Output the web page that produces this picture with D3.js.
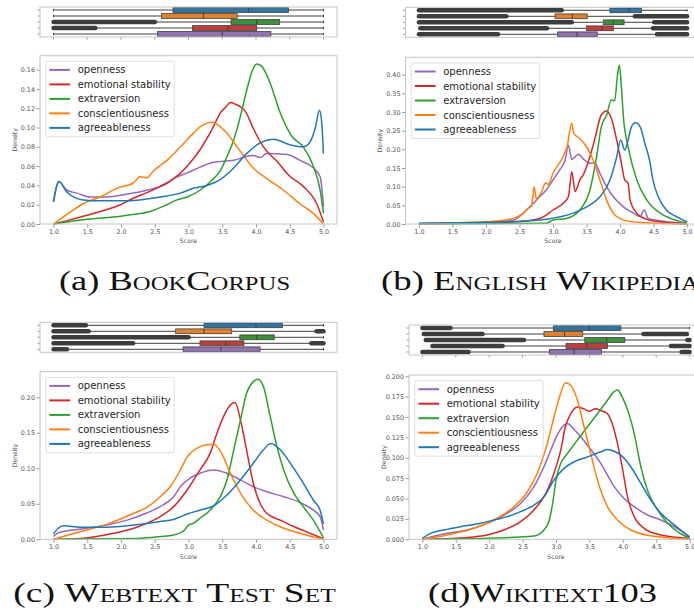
<!DOCTYPE html>
<html>
<head>
<meta charset="utf-8">
<script src="https://cdn.jsdelivr.net/npm/d3@7"></script>
<style>
html,body{margin:0;padding:0;background:#fff;overflow:hidden;}
svg{display:block;}
</style>
</head>
<body>
<svg id="chart" width="694" height="614"></svg>
<script>
// ---------------- DATA ----------------
const traits = ["openness", "emotional stability", "extraversion", "conscientiousness", "agreeableness"];
const boxOrder = ["agreeableness", "conscientiousness", "extraversion", "emotional stability", "openness"];
const xTicks = [1.0, 1.5, 2.0, 2.5, 3.0, 3.5, 4.0, 4.5, 5.0];
const captions = ["(a) BookCorpus", "(b) English Wikipedia", "(c) Webtext Test Set", "(d)Wikitext103"];

// (a) BookCorpus densities: [score, density]
const book_openness = [[1.0,0.023],[1.05,0.040],[1.08,0.044],[1.2,0.035],[1.35,0.032],[1.54,0.028],[1.79,0.028],[2.09,0.031],[2.38,0.035],[2.68,0.042],[2.78,0.047],[2.98,0.053],[3.17,0.059],[3.37,0.064],[3.67,0.066],[3.86,0.070],[3.96,0.071],[4.06,0.069],[4.16,0.073],[4.46,0.072],[4.65,0.066],[4.85,0.058],[4.95,0.049],[5.0,0.018]];
const book_emotional = [[1.0,0.0],[1.2,0.0035],[1.5,0.009],[1.69,0.013],[1.99,0.020],[2.19,0.027],[2.4,0.033],[2.58,0.039],[2.78,0.047],[2.98,0.060],[3.17,0.077],[3.37,0.101],[3.47,0.115],[3.55,0.121],[3.62,0.126],[3.7,0.124],[3.78,0.121],[3.84,0.117],[3.96,0.099],[4.11,0.080],[4.31,0.065],[4.51,0.049],[4.7,0.039],[4.9,0.021],[5.0,0.002]];
const book_extraversion = [[1.0,0.0],[1.5,0.005],[2.0,0.008],[2.19,0.010],[2.43,0.013],[2.68,0.020],[2.83,0.025],[2.98,0.028],[3.17,0.035],[3.37,0.047],[3.47,0.055],[3.57,0.070],[3.67,0.087],[3.77,0.112],[3.86,0.138],[3.95,0.160],[4.01,0.166],[4.08,0.164],[4.21,0.146],[4.36,0.115],[4.53,0.091],[4.7,0.080],[4.85,0.060],[4.95,0.035],[5.0,0.011]];
const book_conscientiousness = [[1.0,0.0],[1.2,0.010],[1.44,0.021],[1.69,0.028],[1.94,0.037],[2.19,0.043],[2.28,0.049],[2.38,0.048],[2.48,0.055],[2.68,0.066],[2.88,0.080],[3.07,0.094],[3.22,0.103],[3.35,0.1055],[3.45,0.102],[3.57,0.094],[3.72,0.080],[3.96,0.058],[4.16,0.047],[4.41,0.035],[4.65,0.021],[4.85,0.011],[5.0,0.0]];
const book_agreeableness = [[1.0,0.023],[1.05,0.040],[1.08,0.044],[1.2,0.033],[1.44,0.025],[1.69,0.024],[2.0,0.024],[2.28,0.025],[2.58,0.028],[2.88,0.032],[3.07,0.037],[3.27,0.040],[3.47,0.046],[3.67,0.058],[3.86,0.073],[4.06,0.084],[4.26,0.088],[4.51,0.082],[4.7,0.080],[4.8,0.085],[4.88,0.100],[4.94,0.118],[4.97,0.108],[5.0,0.073]];

// (b) English Wikipedia
const wiki_openness = [[1.0,0.001],[2.0,0.004],[2.41,0.010],[2.6,0.037],[2.70,0.054],[2.8,0.073],[2.9,0.091],[3.0,0.118],[3.1,0.145],[3.18,0.171],[3.23,0.21],[3.28,0.173],[3.38,0.187],[3.47,0.171],[3.55,0.163],[3.62,0.164],[3.7,0.136],[3.8,0.10],[3.9,0.073],[4.05,0.046],[4.2,0.029],[4.3,0.020],[4.36,0.0375],[4.42,0.015],[4.59,0.009],[5.0,0.002]];
const wiki_emotional = [[1.0,0.001],[2.41,0.006],[2.8,0.015],[2.9,0.024],[3.0,0.0375],[3.15,0.055],[3.23,0.073],[3.28,0.14],[3.33,0.087],[3.4,0.118],[3.45,0.131],[3.55,0.18],[3.62,0.225],[3.72,0.292],[3.8,0.303],[3.87,0.283],[3.95,0.225],[4.02,0.1625],[4.07,0.118],[4.12,0.109],[4.15,0.064],[4.25,0.029],[4.4,0.0125],[4.64,0.005],[5.0,0.001]];
const wiki_extraversion = [[1.0,0.0],[2.9,0.002],[3.0,0.011],[3.2,0.015],[3.4,0.0375],[3.55,0.091],[3.65,0.18],[3.72,0.26],[3.8,0.292],[3.87,0.332],[3.92,0.330],[3.96,0.396],[3.99,0.426],[4.02,0.368],[4.05,0.2875],[4.12,0.207],[4.25,0.118],[4.4,0.064],[4.6,0.029],[4.79,0.0125],[5.0,0.003]];
const wiki_conscientiousness = [[1.0,0.001],[2.0,0.006],[2.25,0.010],[2.41,0.015],[2.56,0.029],[2.63,0.042],[2.68,0.048],[2.72,0.10],[2.75,0.067],[2.83,0.087],[2.89,0.11],[2.93,0.106],[3.0,0.136],[3.15,0.18],[3.21,0.207],[3.28,0.27],[3.31,0.243],[3.40,0.229],[3.5,0.207],[3.6,0.171],[3.7,0.118],[3.8,0.064],[3.9,0.029],[4.05,0.011],[4.3,0.004],[5.0,0.0]];
const wiki_agreeableness = [[1.0,0.002],[1.9,0.004],[2.4,0.006],[2.9,0.0125],[3.3,0.029],[3.55,0.051],[3.7,0.073],[3.85,0.118],[3.95,0.18],[4.01,0.225],[4.07,0.198],[4.12,0.225],[4.17,0.26],[4.23,0.271],[4.3,0.26],[4.37,0.216],[4.44,0.171],[4.49,0.118],[4.57,0.073],[4.69,0.0375],[4.84,0.02],[5.0,0.006]];

// (c) Webtext Test Set
const web_openness = [[1.0,0.004],[1.07,0.009],[1.2,0.012],[1.49,0.0155],[1.79,0.020],[2.09,0.027],[2.38,0.037],[2.58,0.046],[2.78,0.060],[2.9,0.0765],[3.02,0.086],[3.17,0.093],[3.37,0.0977],[3.57,0.093],[3.77,0.0836],[3.96,0.074],[4.16,0.067],[4.41,0.060],[4.65,0.052],[4.85,0.041],[4.95,0.032],[5.0,0.013]];
const web_emotional = [[1.0,0.0],[1.49,0.002],[1.89,0.0085],[2.19,0.0155],[2.38,0.0225],[2.58,0.032],[2.78,0.046],[2.98,0.0695],[3.17,0.0977],[3.32,0.121],[3.42,0.149],[3.52,0.173],[3.61,0.188],[3.69,0.1925],[3.77,0.168],[3.86,0.126],[3.96,0.079],[4.06,0.0507],[4.16,0.0366],[4.36,0.027],[4.56,0.018],[4.8,0.0085],[5.0,0.001]];
const web_extraversion = [[1.0,0.0],[2.19,0.001],[2.48,0.003],[2.78,0.006],[2.93,0.012],[3.0,0.020],[3.07,0.0225],[3.17,0.0296],[3.32,0.041],[3.47,0.060],[3.57,0.0836],[3.67,0.126],[3.77,0.168],[3.86,0.2056],[3.96,0.222],[4.03,0.2254],[4.11,0.215],[4.21,0.173],[4.31,0.1305],[4.41,0.0977],[4.56,0.065],[4.7,0.046],[4.85,0.027],[5.0,0.002]];
const web_conscientiousness = [[1.0,0.0],[1.4,0.011],[1.79,0.021],[2.19,0.0366],[2.38,0.045],[2.58,0.060],[2.73,0.074],[2.88,0.0977],[2.98,0.116],[3.12,0.128],[3.27,0.1333],[3.37,0.134],[3.49,0.121],[3.62,0.093],[3.77,0.065],[3.96,0.041],[4.16,0.027],[4.41,0.0155],[4.65,0.0085],[5.0,0.0]];
const web_agreeableness = [[1.0,0.0075],[1.07,0.0155],[1.15,0.019],[1.4,0.017],[1.79,0.017],[2.19,0.020],[2.58,0.025],[2.78,0.028],[2.98,0.0357],[3.17,0.041],[3.37,0.047],[3.57,0.0624],[3.77,0.0836],[3.96,0.107],[4.11,0.126],[4.22,0.135],[4.36,0.126],[4.51,0.107],[4.7,0.079],[4.85,0.055],[4.95,0.041],[5.0,0.0216]];

// (d) Wikitext103
const wt_openness = [[1.0,0.0],[1.37,0.0073],[1.67,0.0114],[1.97,0.0196],[2.27,0.0318],[2.47,0.044],[2.67,0.0645],[2.82,0.089],[2.92,0.109],[3.02,0.128],[3.12,0.140],[3.17,0.142],[3.27,0.1347],[3.37,0.1257],[3.47,0.1155],[3.57,0.105],[3.67,0.093],[3.77,0.0788],[3.87,0.0645],[4.02,0.050],[4.17,0.040],[4.37,0.0298],[4.57,0.0237],[4.77,0.0155],[5.0,0.0033]];
const wt_emotional = [[1.0,0.0],[1.62,0.002],[1.97,0.0053],[2.22,0.0114],[2.47,0.0216],[2.67,0.036],[2.87,0.060],[2.97,0.081],[3.07,0.109],[3.14,0.138],[3.22,0.154],[3.32,0.1624],[3.42,0.160],[3.49,0.157],[3.59,0.160],[3.67,0.158],[3.77,0.154],[3.84,0.142],[3.92,0.1176],[3.99,0.089],[4.07,0.052],[4.17,0.0278],[4.32,0.0135],[4.57,0.0053],[5.0,0.001]];
const wt_extraversion = [[1.0,0.0],[1.87,0.001],[2.37,0.0025],[2.67,0.004],[2.82,0.0114],[2.9,0.0237],[2.95,0.044],[3.0,0.0727],[3.07,0.093],[3.17,0.105],[3.32,0.1216],[3.47,0.138],[3.62,0.154],[3.77,0.1706],[3.87,0.181],[3.92,0.183],[3.99,0.1747],[4.09,0.154],[4.17,0.130],[4.27,0.089],[4.37,0.060],[4.52,0.036],[4.67,0.0196],[4.82,0.0094],[5.0,0.001]];
const wt_conscientiousness = [[1.0,0.0],[1.37,0.0053],[1.77,0.0135],[2.07,0.0237],[2.37,0.040],[2.57,0.058],[2.72,0.081],[2.87,0.1176],[2.97,0.150],[3.07,0.1788],[3.14,0.192],[3.22,0.189],[3.32,0.1706],[3.42,0.138],[3.52,0.105],[3.62,0.0727],[3.77,0.040],[3.92,0.0237],[4.12,0.0114],[4.37,0.0049],[5.0,0.0]];
const wt_agreeableness = [[1.0,0.001],[1.12,0.0073],[1.32,0.0114],[1.57,0.0155],[1.87,0.0196],[2.07,0.0237],[2.27,0.0278],[2.47,0.034],[2.67,0.042],[2.82,0.052],[2.97,0.0727],[3.12,0.087],[3.27,0.095],[3.47,0.101],[3.67,0.1073],[3.77,0.110],[3.87,0.108],[3.97,0.1033],[4.12,0.089],[4.27,0.0686],[4.42,0.048],[4.57,0.0318],[4.77,0.0176],[5.0,0.0025]];

// Box statistics per row (boxOrder): [whiskerLow, q1, median, q3, whiskerHigh]
const book_box = [[1.0,2.77,3.89,4.48,5.0],[1.0,2.60,3.22,3.72,5.0],[2.53,3.63,4.01,4.35,5.0],[1.64,3.06,3.59,4.01,5.0],[1.0,2.54,3.50,4.22,5.0]];
const wiki_box = [[3.15,3.85,4.135,4.32,5.0],[2.33,3.03,3.29,3.51,4.2],[3.30,3.75,3.90,4.06,4.49],[2.93,3.50,3.73,3.90,4.47],[2.2,3.07,3.36,3.66,4.53]];
const web_box = [[1.5,3.23,4.0,4.39,5.0],[1.54,2.81,3.23,3.64,4.87],[3.02,3.76,4.01,4.27,5.0],[2.2,3.17,3.55,3.82,4.80],[1.22,2.92,3.48,4.06,5.0]];
const wt_box = [[1.44,2.96,3.50,3.97,5.0],[1.92,2.82,3.13,3.40,4.29],[2.54,3.43,3.76,4.03,4.94],[2.22,3.15,3.46,3.77,4.70],[1.71,2.9,3.27,3.68,4.86]];
// Outlier ranges per row (dense fliers forming solid bands)
const book_fliers = [[],[],[[1.0,2.5]],[[1.0,1.62]],[]];
const wiki_fliers = [[[1.0,3.13]],[[1.0,2.3],[4.22,5.0]],[[1.0,3.28],[4.51,5.0]],[[1.02,2.91],[4.49,5.0]],[[1.0,2.18],[4.55,5.0]]];
const web_fliers = [[[1.0,1.48]],[[1.0,1.52],[4.9,5.0]],[[1.0,3.0]],[[1.0,2.18],[4.82,5.0]],[[1.0,1.2]]];
const wt_fliers = [[[1.0,1.42]],[[1.02,1.9],[4.31,4.96]],[[1.05,2.52],[4.97,5.0]],[[1.15,2.2],[4.72,5.0]],[[1.0,1.69],[4.88,5.0]]];

const yTicksA = [0,0.02,0.04,0.06,0.08,0.10,0.12,0.14,0.16];
const yTicksB = [0,0.05,0.10,0.15,0.20,0.25,0.30,0.35,0.40];
const yTicksC = [0,0.05,0.10,0.15,0.20];
const yTicksD = [0,0.025,0.05,0.075,0.10,0.125,0.15,0.175,0.20];

// ---------------- STYLE / LAYOUT ----------------
const lineColors = {"openness":"#9467bd","emotional stability":"#d62728","extraversion":"#2ca02c","conscientiousness":"#ff7f0e","agreeableness":"#1f77b4"};
const boxColors = {"openness":"#9372b2","emotional stability":"#c03d3e","extraversion":"#3a923a","conscientiousness":"#e1812c","agreeableness":"#3274a1"};
const frameColor = "#c4c4c4";
const darkGray = "#3f3f3f";
const tickColor = "#555";

const panels = [
  {series:[book_openness,book_emotional,book_extraversion,book_conscientiousness,book_agreeableness], box:book_box, fliers:book_fliers,
   left:40, width:297, boxTop:7, densTop:55.7, densBottom:224, ymax:0.1745, yTicks:yTicksA, fmt:".2f", bottomTicks:true,
   caption:captions[0], capX:59, capBase:290, capW:231},
  {series:[wiki_openness,wiki_emotional,wiki_extraversion,wiki_conscientiousness,wiki_agreeableness], box:wiki_box, fliers:wiki_fliers,
   left:405.5, width:295, boxTop:7.3, densTop:57.3, densBottom:224, ymax:0.4466, yTicks:yTicksB, fmt:".2f", bottomTicks:false,
   caption:captions[1], capX:381, capBase:290, capW:null},
  {series:[web_openness,web_emotional,web_extraversion,web_conscientiousness,web_agreeableness], box:web_box, fliers:web_fliers,
   left:40, width:297, boxTop:322.3, densTop:371.7, densBottom:539.3, ymax:0.236, yTicks:yTicksC, fmt:".2f", bottomTicks:false,
   caption:captions[2], capX:13.3, capBase:602.3, capW:321},
  {series:[wt_openness,wt_emotional,wt_extraversion,wt_conscientiousness,wt_agreeableness], box:wt_box, fliers:wt_fliers,
   left:409, width:294, boxTop:325, densTop:375, densBottom:539.3, ymax:0.2015, yTicks:yTicksD, fmt:".3f", bottomTicks:true,
   caption:captions[3], capX:428, capBase:602.3, capW:229}
];

const svg = d3.select("#chart");
const sansFont = "'DejaVu Sans', Verdana, sans-serif";
const serifFont = "'Liberation Serif', 'Times New Roman', serif";

const scales = [];

panels.forEach((p, pi) => {
  const x = d3.scaleLinear().domain([0.8, 5.2]).range([p.left, p.left + p.width]);
  const y = d3.scaleLinear().domain([0, p.ymax]).range([p.densBottom, p.densTop]);

  // ---- Boxplot strip ----
  const boxH = 30;
  const yb = d3.scaleBand().domain(boxOrder).range([p.boxTop, p.boxTop + boxH]).paddingInner(0).paddingOuter(0);
  const gBox = svg.append("g");
  const bw = yb.bandwidth() * 0.8;

  const clipId = "clipbox" + pi;
  svg.append("clipPath").attr("id", clipId).append("rect")
    .attr("x", p.left).attr("y", p.boxTop).attr("width", p.width).attr("height", boxH);
  const gInner = gBox.append("g").attr("clip-path", `url(#${clipId})`);

  boxOrder.forEach((name, ri) => {
    const cy = yb(name) + yb.bandwidth() / 2;
    const [wl, q1, med, q3, wh] = p.box[ri];
    // fliers
    p.fliers[ri].forEach(([a, b]) => {
      gInner.append("line")
        .attr("x1", x(a)).attr("x2", x(b)).attr("y1", cy).attr("y2", cy)
        .attr("stroke", "#3d3d3d").attr("stroke-width", 4.4).attr("stroke-linecap", "round");
    });
    // whiskers
    gInner.append("line").attr("x1", x(wl)).attr("x2", x(q1)).attr("y1", cy).attr("y2", cy)
      .attr("stroke", darkGray).attr("stroke-width", 1);
    gInner.append("line").attr("x1", x(q3)).attr("x2", x(wh)).attr("y1", cy).attr("y2", cy)
      .attr("stroke", darkGray).attr("stroke-width", 1);
    // caps
    [wl, wh].forEach(v => {
      gInner.append("line").attr("x1", x(v)).attr("x2", x(v)).attr("y1", cy - bw / 4).attr("y2", cy + bw / 4)
        .attr("stroke", darkGray).attr("stroke-width", 1);
    });
    // box
    gInner.append("rect").attr("x", x(q1)).attr("y", cy - bw / 2).attr("width", x(q3) - x(q1)).attr("height", bw)
      .attr("fill", boxColors[name]).attr("stroke", darkGray).attr("stroke-width", 0.8);
    gInner.append("line").attr("x1", x(med)).attr("x2", x(med)).attr("y1", cy - bw / 2).attr("y2", cy + bw / 2)
      .attr("stroke", darkGray).attr("stroke-width", 1);
    // left tick
    gBox.append("line").attr("x1", p.left - 2.5).attr("x2", p.left).attr("y1", cy).attr("y2", cy)
      .attr("stroke", "#555").attr("stroke-width", 0.6);
  });
  if (p.bottomTicks) {
    xTicks.forEach(t => {
      gBox.append("line").attr("x1", x(t)).attr("x2", x(t)).attr("y1", p.boxTop + boxH).attr("y2", p.boxTop + boxH + 2.5)
        .attr("stroke", "#555").attr("stroke-width", 0.6);
    });
  }
  gBox.append("rect").attr("x", p.left).attr("y", p.boxTop).attr("width", p.width).attr("height", boxH)
    .attr("fill", "none").attr("stroke", frameColor).attr("stroke-width", 1);

  // ---- Density plot ----
  const gD = svg.append("g");
  const line = d3.line().x(d => x(d[0])).y(d => y(d[1])).curve(d3.curveMonotoneX);
  p.series.forEach((s, si) => {
    gD.append("path").datum(s).attr("d", line).attr("fill", "none")
      .attr("stroke", lineColors[traits[si]]).attr("stroke-width", 1.5).attr("stroke-linejoin", "round");
  });

  // axes
  const xAxis = d3.axisBottom(x).tickValues(xTicks).tickFormat(d3.format(".1f")).tickSize(3.5).tickPadding(1.5);
  const gx = gD.append("g").attr("transform", `translate(0,${p.densBottom})`).call(xAxis);
  const yAxis = d3.axisLeft(y).tickValues(p.yTicks).tickFormat(d3.format(p.fmt)).tickSize(3.5).tickPadding(1.5);
  const gy = gD.append("g").attr("transform", `translate(${p.left},0)`).call(yAxis);
  [gx, gy].forEach(g => {
    g.select(".domain").remove();
    g.selectAll(".tick line").attr("stroke", "#555").attr("stroke-width", 0.6);
    g.selectAll(".tick text").attr("fill", tickColor).style("font-family", sansFont).style("font-size", "6.4px");
  });

  // frame
  gD.append("rect").attr("x", p.left).attr("y", p.densTop).attr("width", p.width).attr("height", p.densBottom - p.densTop)
    .attr("fill", "none").attr("stroke", frameColor).attr("stroke-width", 1);

  // axis labels
  gD.append("text").attr("x", x(3.0)).attr("y", p.densBottom + 19.3).attr("text-anchor", "middle")
    .style("font-family", sansFont).style("font-size", "6.2px").attr("fill", tickColor).text("Score");
  const lx = p.left - 23.5;
  const ly = (p.densTop + p.densBottom) / 2;
  gD.append("text").attr("transform", `translate(${lx},${ly}) rotate(-90)`).attr("text-anchor", "middle")
    .style("font-family", sansFont).style("font-size", "6.2px").attr("fill", tickColor).text("Density");

  // legend
  const lg = gD.append("g").attr("transform", `translate(${p.left + 5.7},${p.densTop + 5.6})`);
  lg.append("rect").attr("x", 0).attr("y", 0).attr("width", 128.5).attr("height", 75.5).attr("rx", 2)
    .attr("fill", "#fff").attr("fill-opacity", 0.85).attr("stroke", "#d6d6d6").attr("stroke-width", 0.8);
  traits.forEach((t, i) => {
    const cy = 8.6 + i * 14.5;
    lg.append("line").attr("x1", 3.7).attr("x2", 24.4).attr("y1", cy).attr("y2", cy)
      .attr("stroke", lineColors[t]).attr("stroke-width", 2);
    lg.append("text").attr("x", 32).attr("y", cy + 3.6)
      .style("font-family", sansFont).style("font-size", "10px").attr("fill", "#262626").text(t);
  });

  scales.push({x, y});
});

// ---------------- CAPTIONS (small caps) ----------------
const bigSize = 27, smallSize = 18.3;
const capNodes = [];
panels.forEach(p => {
  const m = p.caption.match(/^(\([a-d]\)\s?)(.*)$/);
  const t = svg.append("text").attr("transform", `translate(${p.capX},${p.capBase})`)
    .style("font-family", serifFont).attr("fill", "#111");
  t.append("tspan").style("font-size", bigSize + "px").text(m[1]);
  for (const ch of m[2]) {
    const isSmall = /[a-z]/.test(ch);
    t.append("tspan").style("font-size", (isSmall ? smallSize : bigSize) + "px").text(isSmall ? ch.toUpperCase() : ch);
  }
  capNodes.push({t, p});
});
// horizontal fit to the measured widths
const ratios = [];
capNodes.forEach(({t, p}) => {
  const w = t.node().getComputedTextLength ? t.node().getBBox().width : 0;
  if (p.capW && w > 0) ratios.push(p.capW / w);
  p._w = w;
});
const meanR = d3.mean(ratios) || 1;
capNodes.forEach(({t, p}) => {
  const r = (p.capW && p._w > 0) ? p.capW / p._w : meanR;
  t.attr("transform", `translate(${p.capX},${p.capBase}) scale(${r},1)`);
});
</script>
</body>
</html>
